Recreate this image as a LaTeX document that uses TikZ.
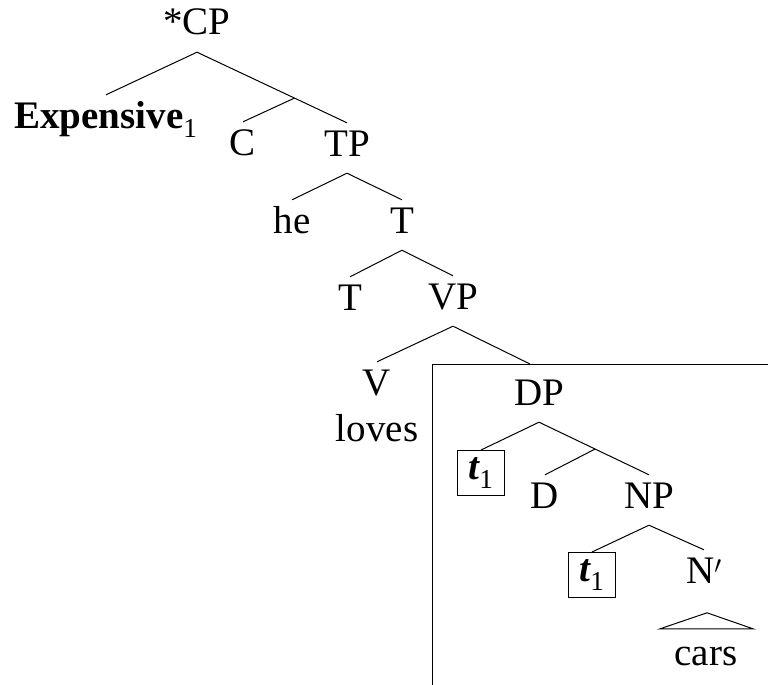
\documentclass[tikz,border=0pt]{standalone}
\usepackage{fontspec}
\setmainfont{Liberation Serif}
\usepackage{tikz}
\usetikzlibrary{positioning,calc}

\begin{document}
\begin{tikzpicture}[
  x=1pt, y=-1pt,
  cat/.style={anchor=base, inner sep=0pt, text height=33pt, text depth=17pt,
              font=\fontsize{39}{46}\selectfont},
  trace/.style={draw, line width=1pt, inner sep=0pt, minimum width=47pt,
                minimum height=45pt, font=\fontsize{39}{46}\selectfont},
  branch/.style={line width=1pt},
  frame/.style={line width=1pt}
]
  \useasboundingbox (0,0) rectangle (768,685);

  % CP level
  \node[cat] (cp) at (197,35) {*CP};
  \node[cat] (expensive) at (106,128) {\textbf{Expensive}\textsubscript{1}};
  \node[cat] (c) at (243,155) {C};
  \node[cat] (tp) at (347,156) {TP};
  \coordinate (cbar) at ($(cp.south)!0.65!(tp.north)$);

  % TP level
  \node[cat] (he) at (292,233) {he};
  \node[cat] (tbar) at (402,233) {T};
  \node[cat] (t) at (350,310) {T};
  \node[cat] (vp) at (453,309) {VP};

  % VP level
  \node[cat] (v) at (377,395) {V};
  \node[cat] (loves) at (377,441) {loves};

  % Boxed DP
  \coordinate (boxcorner) at (432,364);
  \coordinate (boxtop) at (530,364);
  \node[cat] (dp) at (539,405) {DP};
  \node[trace] (trace1) at (481,473) {{\bfseries\itshape t}\textsubscript{1}};
  \node[cat] (d) at (545,508) {D};
  \node[cat] (np) at (649,508) {NP};
  \coordinate (dbar) at ($(dp.south)!0.51!(np.north)$);
  \node[trace] (trace2) at (592,575) {{\bfseries\itshape t}\textsubscript{1}};
  \node[cat] (nbar) at (704,583) {N$'$};
  \node[cat] (cars) at (706,665) {cars};
  \coordinate (roof) at ($(cars.north)+(1,-19)$);
  \coordinate (roofl) at ($(cars.north)+(-46,-3)$);
  \coordinate (roofr) at ($(cars.north)+(47,-3)$);

  % Branches
  \draw[branch] (cp.south) -- (expensive.north);
  \draw[branch] (cp.south) -- (cbar) -- (tp.north);
  \draw[branch] (cbar) -- (c.north);
  \draw[branch] (tp.south) -- (he.north);
  \draw[branch] (tp.south) -- (tbar.north);
  \draw[branch] (tbar.south) -- (t.north);
  \draw[branch] (tbar.south) -- (vp.north);
  \draw[branch] (vp.south) -- (v.north);
  \draw[branch] (vp.south) -- (boxtop);
  \draw[branch] (dp.south) -- (trace1.north);
  \draw[branch] (dp.south) -- (dbar) -- (np.north);
  \draw[branch] (dbar) -- (d.north);
  \draw[branch] (np.south) -- (trace2.north);
  \draw[branch] (np.south) -- (nbar.north);
  \draw[branch] (roof) -- (roofl) -- (roofr) -- cycle;

  % Frame
  \draw[frame] (772,364) -- (boxcorner) -- (432,690);
\end{tikzpicture}
\end{document}
